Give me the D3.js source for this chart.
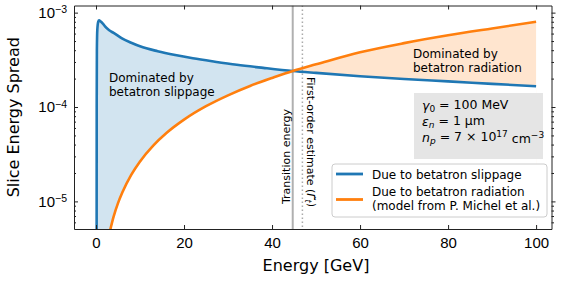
<!DOCTYPE html>
<html>
<head>
<meta charset="utf-8">
<script src="https://cdn.jsdelivr.net/npm/d3@7"></script>
<style>
  body { margin: 0; background: #fff; }
  svg { font-family: "DejaVu Sans", sans-serif; }
  .axis path, .axis line { stroke: #222; }
  .axis text { font-size: 15px; fill: #000; }
</style>
</head>
<body>
<svg id="chart" width="575" height="286"></svg>
<script>
// energy in GeV, slice energy spread
const energySlip = [0.14, 0.16, 0.2, 0.3, 0.5, 0.7, 1, 1.5, 2, 3, 4, 6, 8, 10, 14, 18, 22, 27, 32, 38, 44.7, 50, 60, 70, 80, 90, 100];
const slippage = [3e-6, 1e-4, 4e-4, 6.6e-4, 8.0e-4, 8.3e-4, 8.1e-4, 7.7e-4, 7.2e-4, 6.5e-4, 6.1e-4, 5.3e-4, 4.8e-4, 4.4e-4, 3.9e-4, 3.55e-4, 3.28e-4, 3.02e-4, 2.8e-4, 2.6e-4, 2.41e-4, 2.3e-4, 2.12e-4, 1.98e-4, 1.87e-4, 1.76e-4, 1.66e-4];
const energyRad = [3, 4, 5, 6, 8, 10, 13, 16, 20, 25, 30, 35, 40, 44.7, 50, 60, 70, 80, 90, 100];
const radiation = [4.5e-6, 6.9e-6, 9.6e-6, 1.25e-5, 1.91e-5, 2.65e-5, 3.9e-5, 5.3e-5, 7.35e-5, 1.02e-4, 1.33e-4, 1.67e-4, 2.03e-4, 2.41e-4, 2.83e-4, 3.8e-4, 4.75e-4, 5.75e-4, 6.8e-4, 8.0e-4];
const transitionE = 44.7;
const estimateE = 46.9;
const xTicks = [0, 20, 40, 60, 80, 100];
const yMajor = [1e-5, 1e-4, 1e-3];
const yExp = ["\u22125", "\u22124", "\u22123"];

const svg = d3.select("#chart");
const mLeft = 74, mRight = 551.5, mTop = 5.5, mBottom = 229;
const x = d3.scaleLinear().domain([-5, 103.5]).range([mLeft, mRight]);
const y = d3.scaleLog().domain([5.1e-6, 1.19e-3]).range([mBottom, mTop]);

svg.append("clipPath").attr("id", "plot")
  .append("rect").attr("x", mLeft).attr("y", mTop).attr("width", mRight - mLeft).attr("height", mBottom - mTop);

const plot = svg.append("g").attr("clip-path", "url(#plot)");

const slipPts = energySlip.map((e, i) => [e, slippage[i]]);
const radPts = energyRad.map((e, i) => [e, radiation[i]]);

const line = d3.line().x(d => x(d[0])).y(d => y(d[1])).curve(d3.curveMonotoneX);
const under = d3.area().x(d => x(d[0])).y0(mBottom + 30).y1(d => y(d[1])).curve(d3.curveMonotoneX);

// left: slippage dominated, right: radiation dominated
plot.append("path").attr("d", under(slipPts.filter(d => d[0] <= transitionE))).attr("fill", "rgb(210,228,240)");
plot.append("path").attr("d", under(radPts.filter(d => d[0] <= transitionE))).attr("fill", "#fff");
plot.append("path").attr("d", under(radPts.filter(d => d[0] >= transitionE))).attr("fill", "rgb(255,229,207)");
plot.append("path").attr("d", under(slipPts.filter(d => d[0] >= transitionE))).attr("fill", "#fff");

plot.append("line").attr("x1", x(transitionE)).attr("x2", x(transitionE)).attr("y1", mTop).attr("y2", mBottom)
  .attr("stroke", "#b0b0b0").attr("stroke-width", 2);
plot.append("line").attr("x1", x(estimateE)).attr("x2", x(estimateE)).attr("y1", mTop).attr("y2", mBottom)
  .attr("stroke", "#aaa").attr("stroke-width", 1.5).attr("stroke-dasharray", "1.5,2.5");

plot.append("path").attr("d", line(slipPts)).attr("fill", "none").attr("stroke", "#1f77b4").attr("stroke-width", 2.6);
plot.append("path").attr("d", line(radPts)).attr("fill", "none").attr("stroke", "#ff7f0e").attr("stroke-width", 2.6);

// axes: inward ticks on left/top/bottom, outward on the right
const minor = [];
for (let p = -6; p <= -3; p++) for (let m = 2; m <= 9; m++) {
  const v = m * Math.pow(10, p);
  if (v > y.domain()[0] && v < y.domain()[1]) minor.push(v);
}

svg.append("g").attr("class", "axis").attr("transform", `translate(0,${mBottom})`)
  .call(d3.axisBottom(x).tickValues(xTicks).tickSizeInner(-4).tickSizeOuter(0).tickPadding(8));
svg.append("g").attr("class", "axis").attr("transform", `translate(0,${mTop})`)
  .call(d3.axisTop(x).tickValues(xTicks).tickSizeInner(-4).tickSizeOuter(0).tickFormat(""));

const yl = svg.append("g").attr("class", "axis").attr("transform", `translate(${mLeft},0)`)
  .call(d3.axisLeft(y).tickValues(yMajor).tickSizeInner(-4).tickSizeOuter(0).tickPadding(7));
yl.selectAll(".tick text").each(function(d, i) {
  const t = d3.select(this).text(null).attr("dy", "0.32em");
  t.append("tspan").text("10");
  t.append("tspan").attr("dy", "-0.45em").attr("font-size", "10.5px").text(yExp[i]);
});
svg.append("g").attr("class", "axis").attr("transform", `translate(${mLeft},0)`)
  .call(d3.axisLeft(y).tickValues(minor).tickSizeInner(-2).tickSizeOuter(0).tickFormat(""))
  .select(".domain").remove();

svg.append("g").attr("class", "axis").attr("transform", `translate(${mRight},0)`)
  .call(d3.axisRight(y).tickValues(yMajor).tickSizeInner(4).tickSizeOuter(0).tickFormat(""));
svg.append("g").attr("class", "axis").attr("transform", `translate(${mRight},0)`)
  .call(d3.axisRight(y).tickValues(minor).tickSizeInner(2.5).tickSizeOuter(0).tickFormat(""))
  .select(".domain").remove();

// axis labels
svg.append("text").attr("x", 316).attr("y", 271).attr("text-anchor", "middle")
  .attr("font-size", "16px").text("Energy [GeV]");
svg.append("text").attr("transform", `translate(19,${(mTop + mBottom) / 2}) rotate(-90)`).attr("text-anchor", "middle")
  .attr("font-size", "16px").text("Slice Energy Spread");

// region annotations
const note = (tx, ty, lines) => {
  const t = svg.append("text").attr("x", tx).attr("y", ty).attr("font-size", "12px");
  lines.forEach((s, i) => t.append("tspan").attr("x", tx).attr("dy", i ? 14 : 0).text(s));
};
note(109, 81.5, ["Dominated by", "betatron slippage"]);
note(413, 58, ["Dominated by", "betatron radiation"]);

// vertical line labels
svg.append("text").attr("transform", `translate(${x(transitionE) - 3},204) rotate(-90)`)
  .attr("font-size", "11px").text("Transition energy");
const est = svg.append("text").attr("transform", `translate(${x(estimateE) + 5},77) rotate(90)`)
  .attr("font-size", "11px");
est.append("tspan").text("First-order estimate (");
est.append("tspan").attr("font-style", "italic").text("\u0393\u0303");
est.append("tspan").attr("font-style", "italic").attr("font-size", "8px").attr("dy", "0.25em").text("t");
est.append("tspan").attr("dy", "-0.25em").text(")");

// parameter box
svg.append("rect").attr("x", 414).attr("y", 93).attr("width", 129).attr("height", 66).attr("fill", "#e5e5e5");
const param = (ty, sym, sub, rest) => {
  const t = svg.append("text").attr("x", 422).attr("y", ty).attr("font-size", "12.5px");
  t.append("tspan").attr("font-style", "italic").text(sym);
  t.append("tspan").attr("font-size", "9px").attr("dy", "0.25em").attr("font-style", sub.it ? "italic" : "normal").text(sub.s);
  t.append("tspan").attr("dy", "-0.25em").text(rest);
  return t;
};
param(109.5, "\u03b3", { s: "0", it: false }, " = 100 MeV");
param(125.5, "\u03b5", { s: "n", it: true }, " = 1 \u03bcm");
const np = param(142, "n", { s: "p", it: true }, " = 7 \u00d7 10");
np.append("tspan").attr("font-size", "9px").attr("dy", "-0.5em").text("17");
np.append("tspan").attr("dy", "0.5em").text(" cm");
np.append("tspan").attr("font-size", "9px").attr("dy", "-0.5em").text("\u22123");

// legend
const lg = svg.append("g");
lg.append("rect").attr("x", 332).attr("y", 164).attr("width", 215).attr("height", 53).attr("rx", 3)
  .attr("fill", "#fff").attr("stroke", "#ccc");
const entries = [
  { color: "#1f77b4", ly: 174, lines: ["Due to betatron slippage"], ty: 178.5 },
  { color: "#ff7f0e", ly: 199.5, lines: ["Due to betatron radiation", "(model from P. Michel et al.)"], ty: 196 }
];
entries.forEach(e => {
  lg.append("line").attr("x1", 336).attr("x2", 363).attr("y1", e.ly).attr("y2", e.ly)
    .attr("stroke", e.color).attr("stroke-width", 2.8);
  const t = lg.append("text").attr("x", 372).attr("y", e.ty).attr("font-size", "12px");
  e.lines.forEach((s, i) => t.append("tspan").attr("x", 372).attr("dy", i ? 14 : 0).text(s));
});
</script>
</body>
</html>
